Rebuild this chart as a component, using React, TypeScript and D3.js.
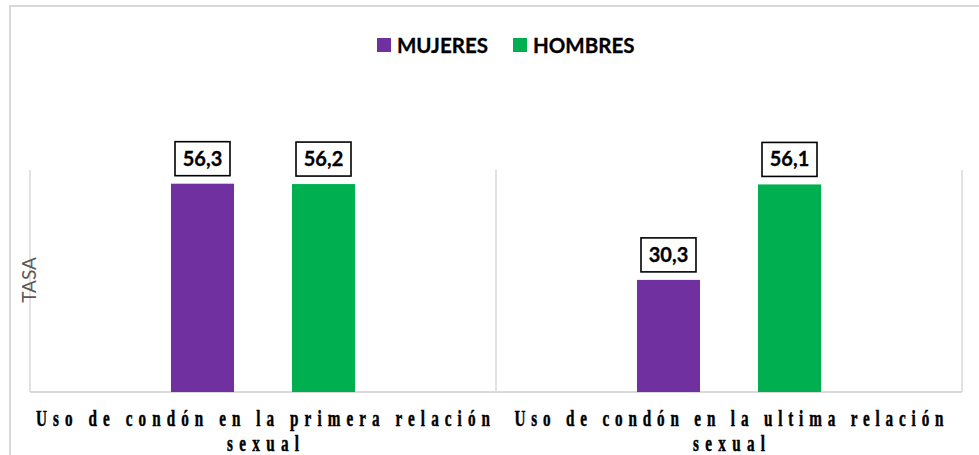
import * as d3 from 'd3'

const categories = ['Uso de condón en la primera relación sexual', 'Uso de condón en la ultima relación sexual']
const catLines = [
    ['Uso de condón en la primera relación', 'sexual'],
    ['Uso de condón en la ultima relación', 'sexual'],
]
const series = ['MUJERES', 'HOMBRES']
const mujeres = [56.3, 30.3]
const hombres = [56.2, 56.1]
const colors = ['#7030A0', '#00B050']

const W = 979
const H = 455
const margin = { top: 170, right: 17, bottom: 63, left: 30 }

const fmt = (v: number) => v.toFixed(1).replace('.', ',')

const App = () => {
    const plotRight = W - margin.right
    const plotBottom = H - margin.bottom

    const x0 = d3.scaleBand<string>().domain(categories).range([margin.left, plotRight])
    const x1 = d3
        .scaleBand<string>()
        .domain(series)
        .range([0, x0.bandwidth()])
        .paddingInner(0.479)
        .paddingOuter(1.165)
    const y = d3.scaleLinear().domain([0, 60]).range([plotBottom, margin.top])

    const values = [mujeres, hombres]
    // line widths of category labels as seen in the picture
    const lineWidths = [
        [454, 72],
        [429, 72],
    ]
    const squeeze = 0.66

    return (
        <svg width={W} height={H} style={{ position: 'absolute', left: 0, top: 0, background: '#fff' }}>
            {/* outer chart border */}
            <path d={`M10,${H + 5} L10,6 L${W + 5},6`} fill="none" stroke="#d9d9d9" strokeWidth={2} />

            {/* legend */}
            <g fontFamily="Lato, 'Noto Sans', sans-serif" fontWeight="bold" fontSize={20.5}>
                {series.map((s, i) => {
                    const lx = i === 0 ? 377 : 513
                    return (
                        <g key={s}>
                            <rect x={lx} y={38} width={14} height={14} fill={colors[i]} />
                            <text x={lx + 20} y={52.5} fill="#000" stroke="#000" strokeWidth={0.3}>{s}</text>
                        </g>
                    )
                })}
            </g>

            {/* plot lines */}
            <g stroke="#d9d9d9" strokeWidth={1.5}>
                {[margin.left, ...categories.map(c => (x0(c) as number) + x0.bandwidth())].map((xx, i) => (
                    <line key={i} x1={xx} x2={xx} y1={margin.top} y2={plotBottom} />
                ))}
                <line x1={margin.left} x2={plotRight} y1={plotBottom} y2={plotBottom} strokeWidth={2} />
            </g>

            {/* bars */}
            {categories.map((c, ci) => (
                <g key={c} transform={`translate(${x0(c)},0)`}>
                    {series.map((s, si) => {
                        const v = values[si][ci]
                        const bx = x1(s) as number
                        const bw = x1.bandwidth()
                        const cx = bx + bw / 2
                        const top = y(v)
                        return (
                            <g key={s}>
                                <rect x={bx} y={top} width={bw} height={plotBottom - top} fill={colors[si]} />
                                <rect x={cx - 27.5} y={top - 42} width={55} height={34} fill="#fff" stroke="#000" strokeWidth={1.6} />
                                <text
                                    x={cx}
                                    y={top - 18}
                                    textAnchor="middle"
                                    fontFamily="Lato, 'Noto Sans', sans-serif"
                                    fontWeight="bold"
                                    fontSize={20}
                                    fill="#000"
                                    stroke="#000"
                                    strokeWidth={0.3}
                                >
                                    {fmt(v)}
                                </text>
                            </g>
                        )
                    })}
                </g>
            ))}

            {/* y axis title */}
            <text
                transform={`translate(36,280) rotate(-90)`}
                textAnchor="middle"
                fontFamily="Lato, 'Noto Sans', sans-serif"
                fontSize={19}
                fill="#595959"
            >
                TASA
            </text>

            {/* category labels */}
            {categories.map((c, ci) => {
                const cx = (x0(c) as number) + x0.bandwidth() / 2
                return catLines[ci].map((line, li) => (
                    <g key={c + li} transform={`translate(${cx},${426 + li * 25}) scale(${squeeze},1)`}>
                        <text
                            x={0}
                            y={0}
                            textAnchor="middle"
                            fontFamily="'Liberation Serif', 'DejaVu Serif', serif"
                            fontWeight="bold"
                            fontSize={23}
                            fill="#000"
                            stroke="#000"
                            strokeWidth={0.5}
                            textLength={lineWidths[ci][li] / squeeze}
                            lengthAdjust="spacing"
                        >
                            {line}
                        </text>
                    </g>
                ))
            })}
        </svg>
    )
}

export default App
